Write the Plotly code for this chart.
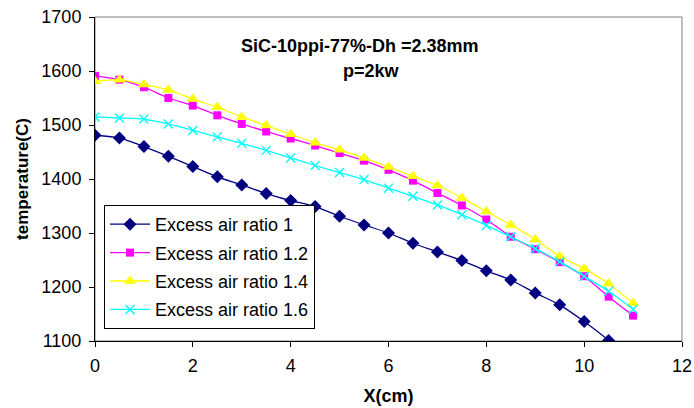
import plotly.graph_objects as go

x_cm = [0, 0.5, 1, 1.5, 2, 2.5, 3, 3.5, 4, 4.5, 5, 5.5, 6, 6.5, 7, 7.5, 8, 8.5, 9, 9.5, 10, 10.5, 11]

t_ratio_1 = [1481, 1476, 1460, 1442, 1423, 1404, 1389, 1373, 1360, 1349, 1331, 1315, 1300,
             1281, 1265, 1249, 1230, 1213, 1189, 1167, 1136, 1101, 1060]
t_ratio_12 = [1591, 1584, 1570, 1550, 1536, 1518, 1502, 1488, 1475, 1462, 1448, 1434, 1417,
              1397, 1374, 1351, 1325, 1293, 1270, 1246, 1220, 1182, 1147]
t_ratio_14 = [1581, 1584, 1575, 1565, 1548, 1533, 1515, 1499, 1483, 1467, 1454, 1439, 1422,
              1405, 1388, 1365, 1340, 1315, 1288, 1257, 1234, 1206, 1170]
t_ratio_16 = [1515, 1513, 1511, 1502, 1490, 1478, 1466, 1453, 1439, 1425, 1412, 1399, 1383,
              1368, 1352, 1334, 1314, 1293, 1271, 1247, 1220, 1192, 1159]

series_names = ["Excess air ratio 1", "Excess air ratio 1.2", "Excess air ratio 1.4", "Excess air ratio 1.6"]
x_ticks = [0, 2, 4, 6, 8, 10, 12]
y_ticks = [1100, 1200, 1300, 1400, 1500, 1600, 1700]
title_line1 = "SiC-10ppi-77%-Dh =2.38mm"
title_line2 = "p=2kw"

FONT = "Arial, Liberation Sans, sans-serif"

styles = [
    dict(color="#000080", symbol="diamond", size=10, line=dict(width=0)),
    dict(color="#FF00FF", symbol="square", size=8, line=dict(width=0)),
    dict(color="#FFFF00", symbol="triangle-up", size=11, line=dict(width=0)),
    dict(color="#00FFFF", symbol="x-thin", size=9, line=dict(width=1.4, color="#00FFFF")),
]
data = [t_ratio_1, t_ratio_12, t_ratio_14, t_ratio_16]

fig = go.Figure()
for name, ys, st in zip(series_names, data, styles):
    fig.add_trace(go.Scatter(
        x=x_cm, y=ys, name=name, mode="lines+markers",
        line=dict(color=st["color"], width=1.3, shape="spline", smoothing=0.6),
        marker=dict(color=st["color"], symbol=st["symbol"], size=st["size"], line=st["line"]),
        legendgroup=name,
    ))

fig.update_layout(
    width=694, height=408,
    margin=dict(l=95, r=12, t=17, b=67, autoexpand=False),
    paper_bgcolor="white", plot_bgcolor="white",
    font=dict(family=FONT, size=18, color="black"),
    showlegend=True,
    legend=dict(
        x=(104 - 95) / 587, y=1 - (267 - 17) / 324, xanchor="left", yanchor="middle",
        bordercolor="black", borderwidth=1, bgcolor="white",
        font=dict(family=FONT, size=18, color="black"),
        tracegroupgap=2, traceorder="grouped", itemwidth=40,
    ),
    xaxis=dict(
        range=[0, 12], tickvals=x_ticks, ticks="outside", ticklen=5, tickcolor="black",
        showline=True, linecolor="black", linewidth=1, showgrid=False, zeroline=False,
        title=dict(text="<b>X(cm)</b>", font=dict(size=18), standoff=14),
        tickfont=dict(size=18), ticklabelstandoff=3, automargin=False,
    ),
    yaxis=dict(
        range=[1100, 1700], tickvals=y_ticks, ticks="outside", ticklen=5, tickcolor="black",
        showline=True, linecolor="black", linewidth=1, showgrid=False, zeroline=False,
        title=dict(text="<b>temperature(C)</b>", font=dict(size=17), standoff=8),
        tickfont=dict(size=18), ticklabelstandoff=4, automargin=False,
    ),
    shapes=[dict(type="rect", xref="paper", yref="paper", x0=0, y0=0, x1=1, y1=1,
                 line=dict(color="#808080", width=1), layer="below")],
    annotations=[
        dict(text="<b>" + title_line1 + "</b>", xref="paper", yref="paper",
             x=(360 - 95) / 587, y=1 - (46 - 17) / 324, showarrow=False,
             font=dict(size=18), xanchor="center", yanchor="middle"),
        dict(text="<b>" + title_line2 + "</b>", xref="paper", yref="paper",
             x=(371 - 95) / 587, y=1 - (71 - 17) / 324, showarrow=False,
             font=dict(size=18), xanchor="center", yanchor="middle"),
    ],
)

fig.write_html("out.html")
